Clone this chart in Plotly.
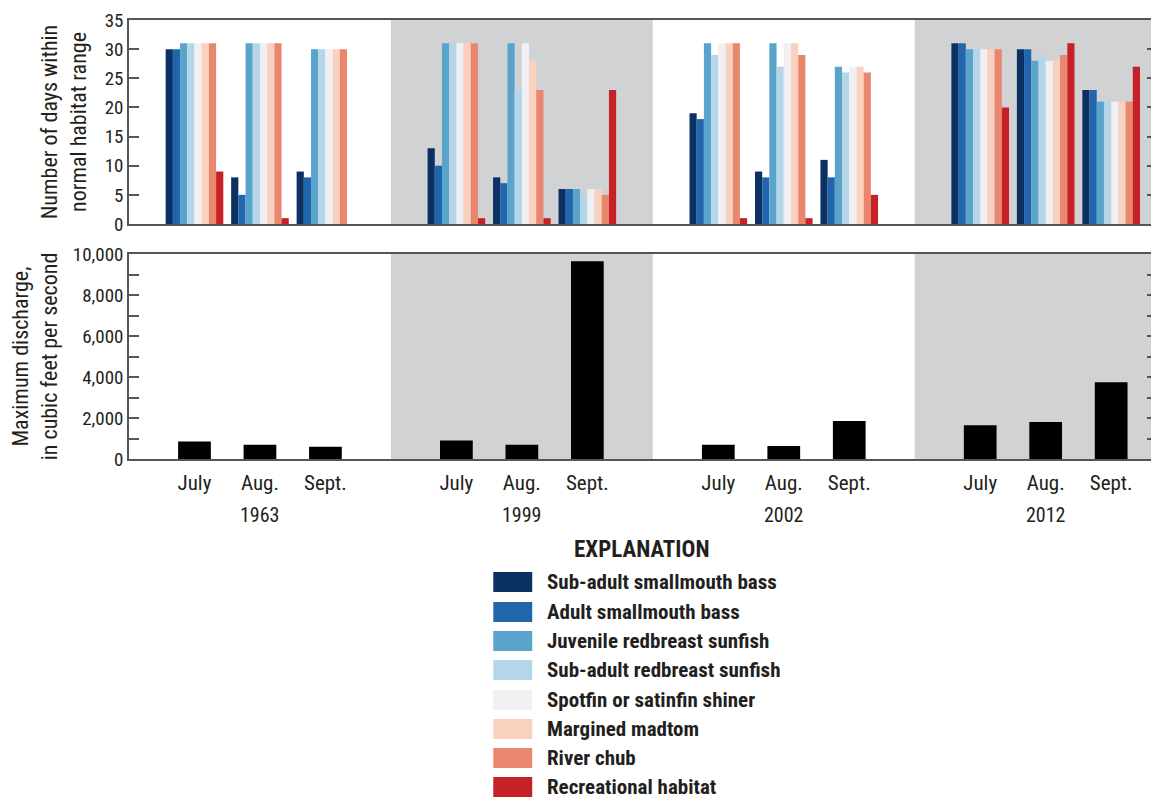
import plotly.graph_objects as go

years = ["1963", "1999", "2002", "2012"]
months = ["July", "Aug.", "Sept."]
series = [
    "Sub-adult smallmouth bass",
    "Adult smallmouth bass",
    "Juvenile redbreast sunfish",
    "Sub-adult redbreast sunfish",
    "Spotfin or satinfin shiner",
    "Margined madtom",
    "River chub",
    "Recreational habitat",
]
colors = ["#0b3162", "#2166ac", "#5aa3cb", "#b4d6e8", "#f0f0f2", "#f9d1be", "#e8866e", "#c52127"]

# days within normal habitat range; one list per series, 12 year-month values each
sub_adult_smb = [30, 8, 9, 13, 8, 6, 19, 9, 11, 31, 30, 23]
adult_smb     = [30, 5, 8, 10, 7, 6, 18, 8, 8, 31, 30, 23]
juv_rbs       = [31, 31, 30, 31, 31, 6, 31, 31, 27, 30, 28, 21]
sub_adult_rbs = [31, 31, 30, 31, 23, 5, 29, 27, 26, 30, 29, 21]
shiner        = [31, 31, 30, 31, 31, 6, 31, 31, 27, 30, 28, 21]
madtom        = [31, 31, 30, 31, 28, 6, 31, 31, 27, 30, 28, 21]
river_chub    = [31, 31, 30, 31, 23, 5, 31, 29, 26, 30, 29, 21]
recreational  = [9, 1, 0, 1, 1, 23, 1, 1, 5, 20, 31, 27]
days = [sub_adult_smb, adult_smb, juv_rbs, sub_adult_rbs, shiner, madtom, river_chub, recreational]

# maximum discharge, cubic feet per second
discharge = [850, 700, 600, 900, 700, 9650, 700, 640, 1850, 1650, 1800, 3750]

shaded_years = ["1999", "2012"]

# x positions: each year occupies 4 slots (3 months + gap)
xpos = []
for yi, _ in enumerate(years):
    for mi, _ in enumerate(months):
        xpos.append(yi * 4 + mi)

FONT = "Liberation Sans Narrow, Arial Narrow, Roboto Condensed, Liberation Sans, Arial"
TXT = "#231f20"
AX = "#555555"

fig = go.Figure()
for name, vals, col in zip(series, days, colors):
    fig.add_trace(go.Bar(x=xpos, y=vals, name=name, marker_color=col,
                         marker_line_width=0, xaxis="x", yaxis="y", showlegend=False))
fig.add_trace(go.Bar(x=xpos, y=discharge, marker_color="#000000", marker_line_width=0,
                     width=0.5, xaxis="x2", yaxis="y2", showlegend=False))

# shading
for yi, yr in enumerate(years):
    if yr in shaded_years:
        for xr_, yr_ref in (("x", "y domain"), ("x2", "y2 domain")):
            fig.add_shape(type="rect", xref=xr_, yref=yr_ref, x0=yi * 4 - 1, x1=yi * 4 + 3,
                          y0=0, y1=1, fillcolor="#d1d2d4", line_width=0, layer="below")

# page pixel geometry (page has an 8px body margin)
OFF = 8
FIG_W, FIG_H = 1159 - OFF, 798 - OFF
P_TOP, P_BOT, P_L, P_R = 20, 459, 129, 1159
PH = P_BOT - P_TOP
PW = P_R - P_L
def py(p):
    return (P_BOT - p) / PH
def px(p):
    return (p - P_L) / PW

xr = [-1, 14.7]
common_x = dict(range=xr, showline=True, mirror=True, linecolor=AX, linewidth=1.5,
                showgrid=False, zeroline=False)
fig.update_layout(
    width=FIG_W, height=FIG_H,
    margin=dict(l=P_L - OFF, r=FIG_W - (P_R - OFF), t=P_TOP - OFF, b=FIG_H - (P_BOT - OFF)),
    plot_bgcolor="white", paper_bgcolor="white",
    barmode="group", bargap=0.12, bargroupgap=0,
    font=dict(family=FONT, size=18, color=TXT),
    xaxis=dict(**common_x, anchor="y", showticklabels=False, ticks=""),
    yaxis=dict(domain=[py(224), 1], range=[0, 35], dtick=5, ticks="inside", ticklen=10,
               tickcolor=AX, tickwidth=1.5, showline=True, mirror="ticks", linecolor=AX,
               linewidth=1.5, showgrid=False, zeroline=False, tickfont=dict(size=19),
               title=dict(text="Number of days within<br>normal habitat range", standoff=12,
                          font=dict(size=22))),
    xaxis2=dict(**common_x, anchor="y2", tickvals=xpos, ticktext=months * len(years),
                ticks="outside", ticklen=4, tickcolor="rgba(0,0,0,0)", tickfont=dict(size=21)),
    yaxis2=dict(domain=[0, py(254)], range=[0, 10000], dtick=2000, tickformat=",",
                ticks="inside", ticklen=10, tickcolor=AX, tickwidth=1.5, tickfont=dict(size=19),
                minor=dict(dtick=1000, ticks="inside", ticklen=10, tickcolor=AX, tickwidth=1.5),
                showline=True, mirror="ticks", linecolor=AX, linewidth=1.5,
                showgrid=False, zeroline=False,
                title=dict(text="Maximum discharge,<br>in cubic feet per second", standoff=10,
                           font=dict(size=22))),
)

# year labels
for yi, yr in enumerate(years):
    fig.add_annotation(x=yi * 4 + 1, xref="x2", y=py(515), yref="paper", text=yr,
                       showarrow=False, font=dict(size=20), yanchor="middle")

# explanation (legend)
fig.add_annotation(x=px(643), y=py(549), xref="paper", yref="paper", text="<b>EXPLANATION</b>",
                   showarrow=False, font=dict(size=23), yanchor="middle")
row_y = [582, 612, 641, 670, 700, 729, 758, 787]
for name, col, ry in zip(series, colors, row_y):
    fig.add_shape(type="rect", xref="paper", yref="paper", x0=px(494), x1=px(533),
                  y0=py(ry - 10), y1=py(ry + 10), fillcolor=col, line_width=0)
    fig.add_annotation(x=px(546), y=py(ry), xref="paper", yref="paper", text="<b>" + name + "</b>",
                       showarrow=False, xanchor="left", yanchor="middle", font=dict(size=21))

fig.write_html("out.html")
